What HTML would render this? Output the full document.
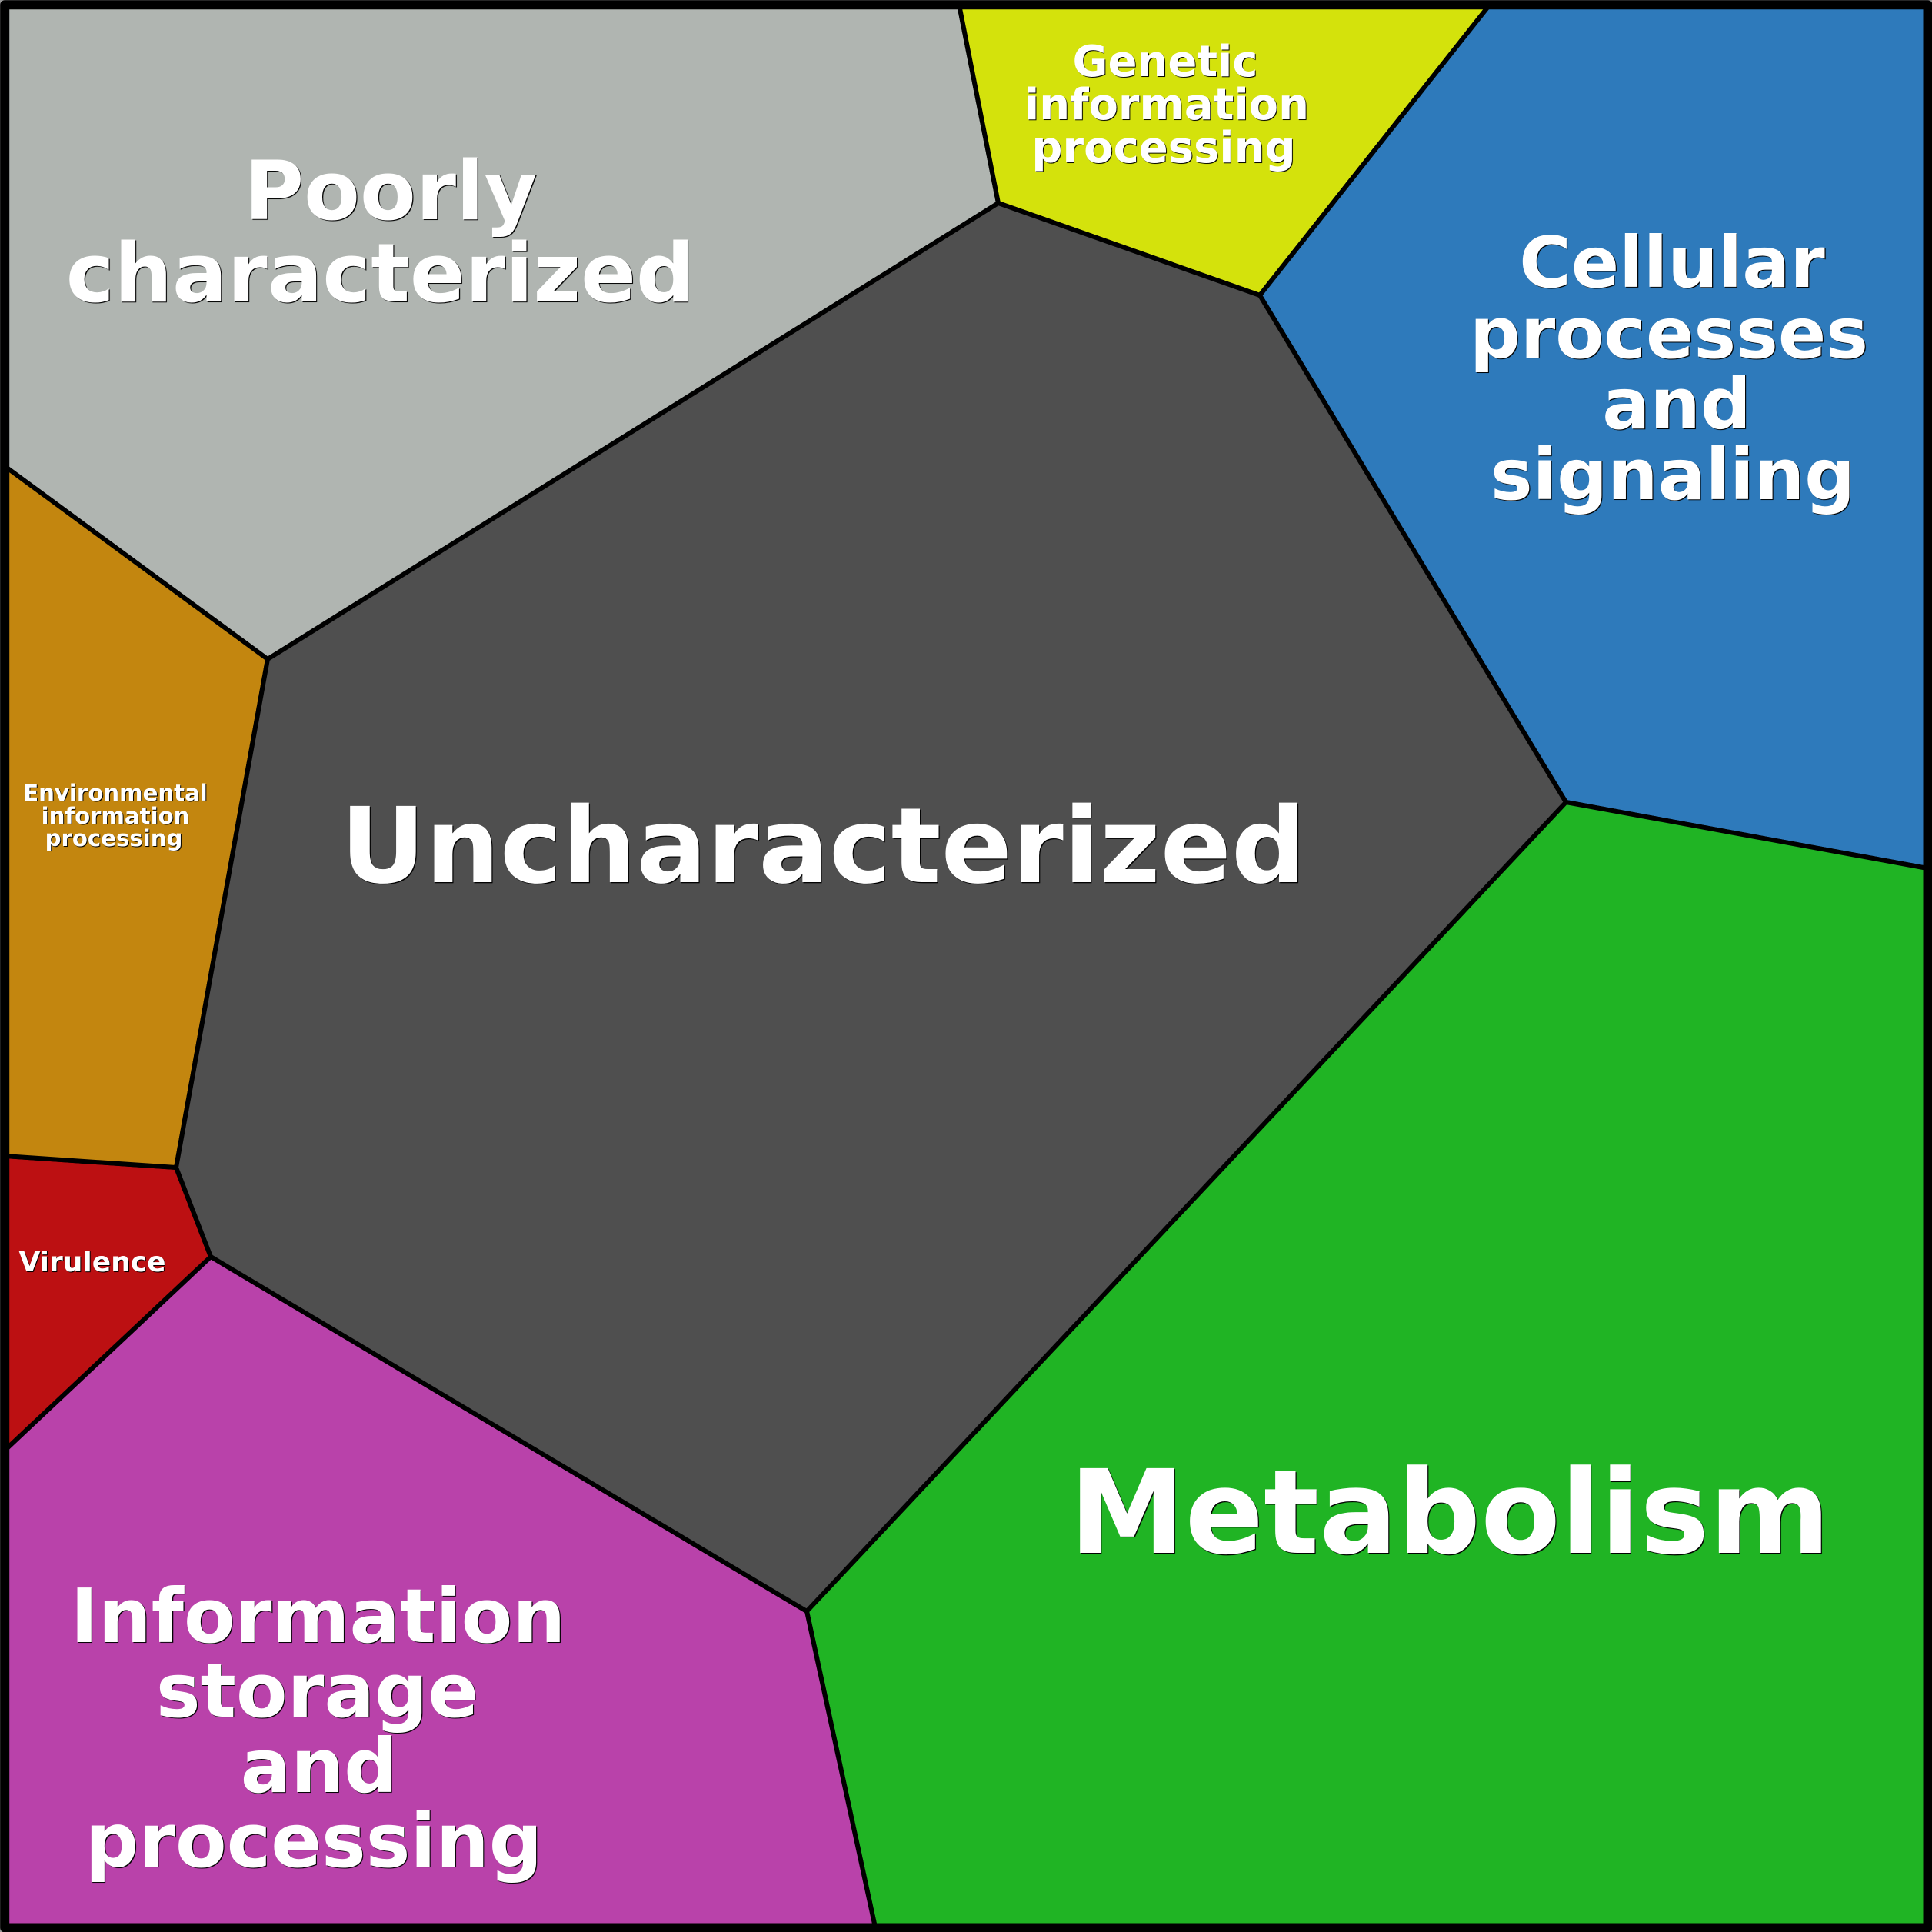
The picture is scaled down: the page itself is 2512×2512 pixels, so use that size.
<!DOCTYPE html>
<html><head><meta charset="utf-8"><style>
html,body{margin:0;padding:0;background:#999}
#c{position:relative;width:2512px;height:2512px;overflow:hidden;background:#999}
svg{position:absolute;left:0;top:0}
.t{position:absolute;line-height:0;white-space:nowrap;font-family:"DejaVu Sans","Liberation Sans",sans-serif;font-weight:bold;color:#fff;transform:translateX(-50%);text-shadow:1.2px 1.2px .5px #000}
.s{text-shadow:1px 1px .5px #000}
</style></head><body><div id="c">
<svg width="2512" height="2512" viewBox="0 0 2512 2512">
<g stroke="#000" stroke-width="6" stroke-linejoin="miter">
<polygon fill="#b0b5b1" points="6,6 1247,6 1298,264 348,857 6,606"/>
<polygon fill="#d4e20c" points="1247,6 1937,6 1638,384 1298,264"/>
<polygon fill="#2e7abb" points="1937,6 2506,6 2506,1129 2036,1043 1638,384"/>
<polygon fill="#20b424" points="2036,1043 2506,1129 2506,2506 1138,2506 1049,2095"/>
<polygon fill="#b942aa" points="274,1634 1049,2095 1138,2506 6,2506 6,1886"/>
<polygon fill="#bc1012" points="6,1503 229,1518 274,1634 6,1886"/>
<polygon fill="#c3860f" points="6,606 348,857 229,1518 6,1503"/>
<polygon fill="#4f4f4f" points="348,857 1298,264 1638,384 2036,1043 1049,2095 274,1634 229,1518"/>
</g>
<rect x="6.2" y="6.2" width="2500.3" height="2500.3" fill="none" stroke="#000" stroke-width="12" stroke-linejoin="round"/>
</svg>
<div class="t" style="left:1070.5px;top:calc(1148px - .346em);font-size:136px">Uncharacterized</div>
<div class="t" style="left:1885px;top:calc(2019.5px - .346em);font-size:151px">Metabolism</div>
<div class="t" style="left:508px;top:calc(286px - .346em);font-size:106px">Poorly</div>
<div class="t" style="left:494.3px;top:calc(393px - .346em);font-size:106px">characterized</div>
<div class="t" style="left:2174px;top:calc(374px - .346em);font-size:92px">Cellular</div>
<div class="t" style="left:2170px;top:calc(466px - .346em);font-size:92px">processes</div>
<div class="t" style="left:2180px;top:calc(558px - .346em);font-size:92px">and</div>
<div class="t" style="left:2175px;top:calc(650px - .346em);font-size:92px">signaling</div>
<div class="t" style="left:413.5px;top:calc(2136px - .346em);font-size:97px">Information</div>
<div class="t" style="left:412.5px;top:calc(2233px - .346em);font-size:97px">storage</div>
<div class="t" style="left:414.7px;top:calc(2331px - .346em);font-size:97px">and</div>
<div class="t" style="left:408px;top:calc(2428px - .346em);font-size:97px">processing</div>
<div class="t s" style="left:1515px;top:calc(100.5px - .346em);font-size:56px">Genetic</div>
<div class="t s" style="left:1517px;top:calc(156.5px - .346em);font-size:56px">information</div>
<div class="t s" style="left:1513px;top:calc(212.5px - .346em);font-size:56px">processing</div>
<div class="t s" style="left:150px;top:calc(1041px - .346em);font-size:29.2px">Environmental</div>
<div class="t s" style="left:150px;top:calc(1071px - .346em);font-size:29.2px">information</div>
<div class="t s" style="left:148px;top:calc(1100.5px - .346em);font-size:29.2px">processing</div>
<div class="t s" style="left:120px;top:calc(1654.5px - .346em);font-size:36px">Virulence</div>
</div></body></html>
